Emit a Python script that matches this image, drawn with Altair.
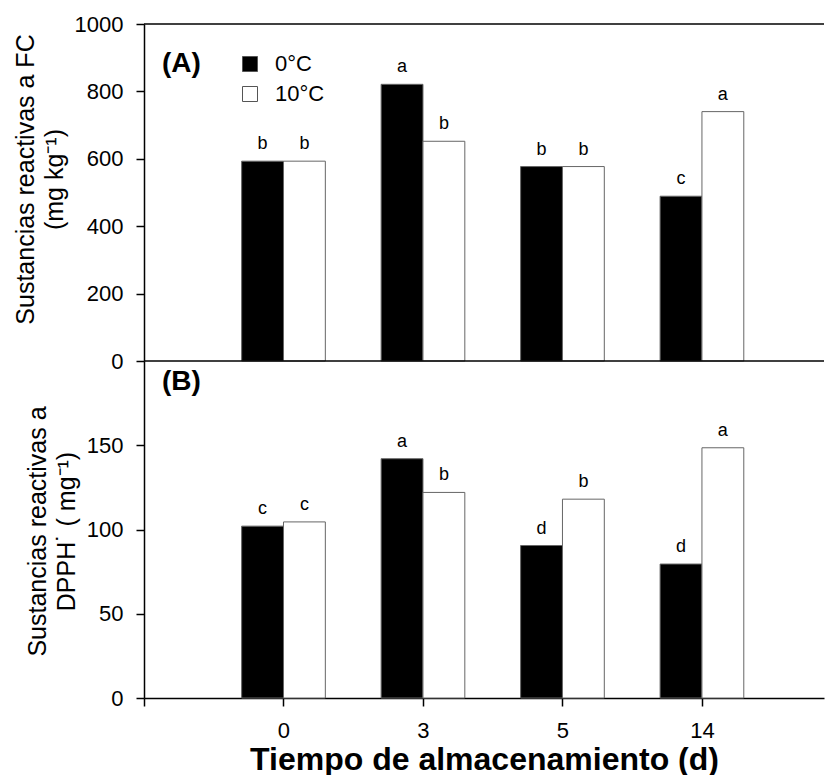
import altair as alt
import pandas as pd

# ---- data ----
days = ["0", "3", "5", "14"]
temps = ["0°C", "10°C"]

fc_0C = [593, 821, 577, 489]
fc_10C = [593, 652, 577, 740]
fc_let_0C = ["b", "a", "b", "c"]
fc_let_10C = ["b", "b", "b", "a"]

dpph_0C = [102, 142, 90.5, 79.5]
dpph_10C = [104.5, 122, 118, 148.5]
dpph_let_0C = ["c", "a", "d", "d"]
dpph_let_10C = ["c", "b", "b", "a"]

tick_labels = [""] + days  # position 0 is the empty left tick

BAR_W = 0.3
W, H = 680, 337
XDOM = [0, 4.875]
FONT = "Liberation Sans"


def make_df(v0, v10, l0, l10):
    rows = []
    for i, d in enumerate(days):
        pos = i + 1
        rows.append(dict(day=d, temp=temps[0], value=v0[i], letter=l0[i],
                         x0=pos - BAR_W, x1=pos, xc=pos - BAR_W / 2))
        rows.append(dict(day=d, temp=temps[1], value=v10[i], letter=l10[i],
                         x0=pos, x1=pos + BAR_W, xc=pos + BAR_W / 2))
    return pd.DataFrame(rows)


dfA = make_df(fc_0C, fc_10C, fc_let_0C, fc_let_10C)
dfB = make_df(dpph_0C, dpph_10C, dpph_let_0C, dpph_let_10C)

fill_scale = alt.Scale(domain=temps, range=["black", "white"])
xscale = alt.Scale(domain=XDOM, nice=False, zero=False)

yaxis_common = dict(grid=False, domainColor="black", domainWidth=1.5,
                    tickColor="black", tickWidth=1.5, tickSize=8,
                    labelFontSize=22, labelColor="black", labelFont=FONT,
                    labelPadding=13, format="d", titleFont=FONT,
                    titleFontSize=25, titleFontWeight="normal",
                    titleColor="black", titleLineHeight=29, titlePadding=7)


def panel(df, ydom, yvals, ytitle, title_y, label, label_y, xaxis, legend):
    base = alt.Chart(df)
    yaxis = alt.Axis(values=yvals, title=ytitle, titleY=title_y, **yaxis_common)
    bars = base.mark_bar(stroke="#666666", strokeWidth=1).encode(
        x=alt.X("x0:Q", scale=xscale, axis=xaxis),
        x2="x1:Q",
        y=alt.Y("value:Q", scale=alt.Scale(domain=ydom, nice=False), axis=yaxis),
        y2=alt.datum(0),
        fill=alt.Fill("temp:N", scale=fill_scale, legend=legend),
    )
    letters = base.mark_text(dy=-12, baseline="alphabetic", fontSize=18,
                             font=FONT, color="black").encode(
        x=alt.X("xc:Q", scale=xscale, axis=xaxis),
        y=alt.Y("value:Q", axis=yaxis),
        text="letter:N",
    )
    lab = alt.Chart(pd.DataFrame({"t": [label]})).mark_text(
        align="left", baseline="alphabetic", fontSize=28, fontWeight="bold",
        font=FONT, color="black").encode(
        text="t:N", x=alt.value(18), y=alt.value(label_y))
    return bars, letters, lab


xaxis_B = alt.Axis(values=[0, 1, 2, 3, 4],
                   labelExpr="['', '0', '3', '5', '14'][datum.value]",
                   grid=False, domainColor="black", domainWidth=1.5,
                   tickColor="black", tickWidth=1.5, tickSize=8,
                   labelFontSize=22, labelColor="black", labelFont=FONT,
                   labelPadding=14,
                   title="Tiempo de almacenamiento (d)", titleFont=FONT,
                   titleFontSize=32, titleFontWeight="bold",
                   titleColor="black", titlePadding=3)

legend_A = alt.Legend(orient="none", legendX=95, legendY=29, title=None,
                      symbolType="square", symbolSize=225,
                      symbolStrokeColor="#555555", symbolStrokeWidth=1,
                      labelFont=FONT, labelFontSize=22, labelColor="black",
                      labelOffset=14, rowPadding=8, padding=0)

barsA, lettersA, labA = panel(dfA, [0, 1000], [0, 200, 400, 600, 800, 1000],
                              ["Sustancias reactivas a FC", "(mg kg⁻¹)"],
                              155, "(A)", 48, None, legend_A)
one = pd.DataFrame({"t": [0]})
top_rule = alt.Chart(one).mark_rule(color="black", strokeWidth=1.5).encode(
    y=alt.value(0), x=alt.value(0), x2=alt.value(W))
bottom_rule = alt.Chart(one).mark_rule(color="black", strokeWidth=1.5).encode(
    y=alt.value(H), x=alt.value(0), x2=alt.value(W))

chartA = alt.layer(barsA, lettersA, labA, top_rule, bottom_rule).properties(
    width=W, height=H)

barsB, lettersB, labB = panel(dfB, [0, 200], [0, 50, 100, 150],
                              ["Sustancias reactivas a", "DPPH˙ ( mg⁻¹)"],
                              170, "(B)", 29, xaxis_B, None)
chartB = alt.layer(barsB, lettersB, labB).properties(width=W, height=H)

chart = alt.vconcat(chartA, chartB, spacing=0, bounds="flush").resolve_legend(
    fill="independent").properties(
    padding={"left": 5, "top": 5, "right": 0, "bottom": 0}
).configure_view(stroke=None)

chart.save("out.html", embed_options={"renderer": "svg", "actions": False})
